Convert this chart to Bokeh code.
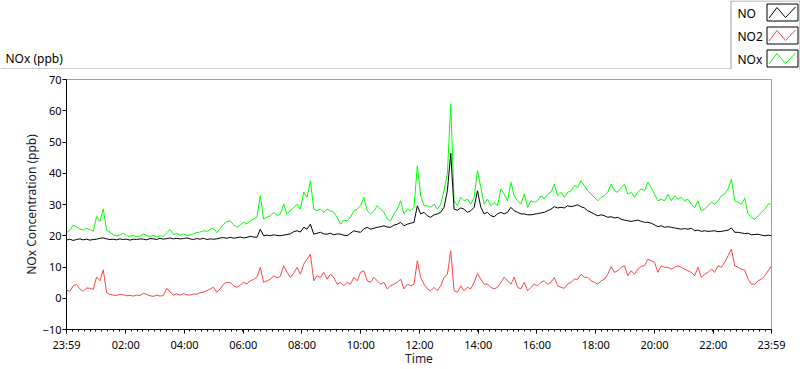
from bokeh.plotting import figure
from bokeh.models import Range1d, FixedTicker, ColumnDataSource
from bokeh.layouts import column
from bokeh.embed import file_html
from bokeh.resources import INLINE
from bokeh.core.properties import value
import numpy as np

FONT = "Noto Sans"

nox = [
    21.0, 21.8, 23.4, 22.8, 22.2, 21.9, 22.3, 22.0, 21.4, 26.2, 24.6, 28.6, 21.8, 21.2, 20.3, 20.0, 20.2, 20.9,
    20.0, 19.8, 20.1, 19.7, 19.9, 20.6, 20.0, 19.8, 20.1, 19.6, 20.0, 19.8, 21.0, 22.0, 20.4, 20.8, 20.2, 20.6,
    20.0, 20.3, 20.6, 21.0, 21.2, 21.6, 21.4, 22.1, 22.4, 21.0, 22.3, 23.7, 24.5, 24.8, 23.5, 22.7, 23.5, 24.3,
    23.8, 24.8, 25.3, 25.9, 32.8, 25.3, 25.9, 26.4, 27.5, 26.5, 26.9, 30.1, 26.9, 28.0, 29.0, 30.1, 28.5, 33.9,
    32.3, 37.6, 28.5, 28.0, 28.5, 27.5, 28.5, 28.0, 27.5, 25.9, 23.7, 25.0, 24.8, 25.9, 28.0, 28.5, 29.6, 32.3,
    28.0, 27.0, 28.0, 29.6, 28.5, 27.5, 25.3, 24.8, 27.0, 28.5, 31.2, 27.0, 28.5, 28.0, 29.1, 42.4, 33.0, 29.6,
    29.6, 29.1, 30.1, 28.5, 30.1, 34.4, 40.0, 62.1, 31.2, 29.6, 32.3, 31.2, 31.7, 30.1, 32.3, 40.8, 35.5, 30.1,
    31.7, 29.6, 30.7, 29.6, 35.0, 33.3, 31.2, 37.1, 32.8, 31.2, 30.1, 33.3, 29.1, 31.2, 30.7, 31.2, 32.8, 31.7,
    33.3, 33.9, 36.5, 32.8, 33.9, 32.3, 33.9, 34.4, 36.0, 35.5, 37.6, 36.0, 34.4, 33.3, 32.3, 31.2, 32.3, 32.8,
    33.9, 36.5, 34.4, 33.9, 35.5, 36.5, 33.3, 33.9, 32.3, 33.9, 35.0, 34.4, 37.1, 35.5, 33.3, 31.2, 31.7, 31.2,
    33.3, 31.2, 32.8, 31.7, 32.3, 31.2, 31.7, 30.1, 29.1, 31.2, 28.0, 28.5, 29.6, 30.7, 30.1, 31.2, 32.8, 33.3,
    35.0, 38.1, 31.2, 30.7, 30.1, 32.0, 26.9, 25.9, 25.3, 26.4, 27.5, 28.5, 30.1, 30.3,
]
no = [
    18.6, 18.9, 18.5, 18.8, 19.0, 18.7, 18.9, 18.6, 18.8, 18.9, 19.2, 19.3, 19.0, 18.8, 18.9, 18.7, 19.0, 18.8,
    18.9, 18.6, 18.9, 18.8, 19.0, 18.9, 18.7, 19.1, 19.0, 18.8, 19.2, 18.9, 19.1, 19.3, 19.0, 19.2, 19.0, 19.1,
    19.3, 19.0, 18.8, 19.1, 18.9, 19.2, 18.8, 19.0, 18.9, 19.0, 19.3, 19.4, 19.2, 19.5, 19.2, 19.4, 19.6, 19.3,
    19.5, 19.8, 19.6, 19.5, 22.1, 20.0, 20.2, 20.0, 20.3, 20.1, 20.0, 20.2, 20.4, 20.6, 21.3, 21.6, 21.2, 22.7,
    22.1, 23.7, 20.5, 20.8, 21.1, 20.6, 20.5, 20.8, 20.3, 20.6, 20.5, 20.2, 20.0, 20.8, 21.6, 21.3, 21.1, 22.2,
    22.7, 22.1, 22.4, 22.7, 22.9, 23.2, 22.8, 22.7, 23.4, 23.7, 24.3, 23.2, 23.7, 24.0, 24.3, 29.6, 27.0, 27.5,
    26.4, 25.9, 26.7, 27.0, 27.5, 29.1, 34.4, 46.4, 28.5, 28.2, 28.9, 28.5, 27.5, 28.0, 29.1, 34.4, 29.1, 27.0,
    27.5, 26.4, 26.1, 27.0, 27.5, 27.0, 27.5, 29.1, 28.0, 27.5, 27.0, 27.0, 26.7, 26.7, 26.9, 27.1, 27.3, 27.5,
    28.0, 28.5, 29.3, 28.9, 29.1, 28.9, 29.6, 29.3, 29.6, 29.9, 29.3, 28.9, 28.0, 27.5, 26.9, 26.4, 26.7, 26.4,
    25.9, 26.1, 25.7, 25.9, 25.3, 25.0, 24.8, 24.6, 24.8, 25.0, 24.6, 24.3, 24.3, 24.0, 23.5, 22.9, 23.2, 22.7,
    22.9, 22.7, 22.5, 22.3, 22.1, 22.3, 22.1, 22.4, 21.6, 21.8, 21.4, 21.6, 21.4, 21.5, 21.6, 21.3, 21.4, 21.6,
    21.8, 22.5, 21.1, 21.1, 20.9, 20.7, 20.8, 20.3, 20.4, 20.5, 20.2, 20.0, 20.2, 20.0,
]
no2 = [
    2.6, 2.2, 4.0, 4.4, 3.0, 2.2, 3.3, 3.2, 2.8, 6.8, 5.6, 9.1, 1.8, 1.2, 1.0, 0.9, 1.3, 1.1,
    0.8, 0.9, 0.7, 1.0, 0.9, 1.6, 1.2, 0.8, 0.6, 1.0, 0.7, 0.9, 3.2, 2.0, 1.0, 1.4, 1.0, 1.5,
    1.1, 1.0, 1.4, 1.3, 1.8, 2.0, 2.4, 3.0, 3.5, 1.9, 3.0, 4.5, 5.1, 5.0, 4.0, 3.5, 4.2, 5.1,
    4.6, 5.6, 6.0, 6.7, 9.9, 5.1, 5.6, 6.1, 7.2, 6.5, 7.0, 10.4, 8.3, 6.7, 8.0, 9.9, 7.7, 10.9,
    12.5, 14.1, 5.6, 7.2, 6.7, 8.3, 6.1, 7.7, 6.7, 4.5, 5.1, 4.0, 5.1, 4.5, 6.7, 5.6, 8.3, 8.8,
    5.6, 5.1, 6.7, 5.6, 4.5, 5.1, 3.0, 4.0, 4.5, 5.1, 6.1, 3.0, 4.5, 4.0, 4.5, 12.0, 6.7, 4.5,
    3.0, 2.4, 3.5, 2.4, 4.0, 6.7, 7.7, 15.2, 2.4, 1.9, 4.0, 2.4, 3.5, 3.0, 5.1, 7.9, 6.1, 4.5,
    4.5, 3.5, 3.0, 3.5, 5.1, 6.7, 5.6, 4.5, 6.7, 3.5, 3.0, 5.1, 2.4, 3.5, 4.5, 4.0, 5.1, 5.6,
    4.5, 5.1, 6.7, 4.0, 3.5, 3.2, 4.5, 5.1, 6.1, 6.1, 7.7, 6.7, 6.7, 5.6, 5.1, 4.5, 5.6, 6.1,
    7.7, 10.1, 8.3, 8.8, 9.9, 10.4, 7.2, 8.8, 7.7, 9.3, 10.2, 10.4, 12.5, 12.0, 11.5, 8.3, 10.4, 9.9,
    9.9, 9.3, 9.9, 10.4, 9.9, 9.3, 8.8, 8.3, 7.2, 9.9, 6.7, 7.7, 8.3, 9.3, 8.3, 10.4, 9.9, 11.5,
    13.6, 15.7, 10.4, 9.9, 9.3, 9.0, 6.1, 4.5, 4.5, 5.6, 6.1, 7.2, 8.8, 10.4,
]

series_names = ["NO", "NO2", "NOx"]
series_colors = ["#000000", "#ff4444", "#00ff00"]

# minutes after the 23:59 start; one sample every ~6.8 minutes
minutes = np.linspace(0, 1440, len(no))

tick_minutes = [0, 121, 241, 361, 481, 601, 721, 841, 961, 1081, 1201, 1321, 1440]
tick_labels = ["23:59", "02:00", "04:00", "06:00", "08:00", "10:00", "12:00",
               "14:00", "16:00", "18:00", "20:00", "22:00", "23:59"]
minor_minutes = list(range(0, 1441, 12))
y_ticks = [-10, 0, 10, 20, 30, 40, 50, 60, 70]

# ---- top strip: graph caption + legend (coordinates in page pixels) ----
top = figure(width=800, height=69, x_range=Range1d(0, 800), y_range=Range1d(69, 0),
             toolbar_location=None, output_backend="svg", min_border=0,
             x_axis_location=None, y_axis_location=None, outline_line_color=None)
top.frame_align = False
top.grid.visible = False
top.line([0, 730], [68.5, 68.5], line_color="#a0a0a0", line_width=1)
top.text(x=[5], y=[58], text=["NOx (ppb)"], text_font=value(FONT), text_font_size="12px",
         text_baseline="middle", text_align="left", text_color="#000000")
top.quad(left=[730.5], right=[799.5], top=[0.5], bottom=[75],
         fill_color="white", line_color="#a0a0a0", line_width=1)

row_y = [12.5, 35.5, 58.5]
top.text(x=[737] * 3, y=row_y, text=series_names, text_font=value(FONT), text_font_size="12px",
         text_baseline="middle", text_align="left", text_color="#000000")
top.quad(left=[766.5] * 3, right=[797.5] * 3, top=[y - 9 for y in row_y], bottom=[y + 8 for y in row_y],
         fill_color="white", line_color="#000000", line_width=1)
zx = [[768.5, 776.5, 785.0, 795.0] for _ in row_y]
zy = [[y + 5, y - 5.5, y + 4.5, y - 6] for y in row_y]
top.multi_line(xs=zx, ys=zy, line_color=series_colors, line_width=1)

# ---- main chart ----
p = figure(width=800, height=300, x_range=Range1d(0, 1440), y_range=Range1d(-10, 70),
           toolbar_location=None, output_backend="svg",
           min_border_left=66, min_border_right=29, min_border_top=10, min_border_bottom=40,
           outline_line_color="#a0a0a0", background_fill_color="white", border_fill_color="white")
p.frame_align = False
p.grid.visible = False

src = ColumnDataSource(dict(t=minutes, no=no, no2=no2, nox=nox))
p.line("t", "nox", source=src, line_color=series_colors[2], line_width=1)
p.line("t", "no2", source=src, line_color=series_colors[1], line_width=1)
p.line("t", "no", source=src, line_color=series_colors[0], line_width=1)

xa = p.xaxis[0]
xa.ticker = FixedTicker(ticks=tick_minutes, minor_ticks=minor_minutes)
xa.major_label_overrides = {m: lab for m, lab in zip(tick_minutes, tick_labels)}
xa.axis_label = "Time"
ya = p.yaxis[0]
ya.ticker = FixedTicker(ticks=y_ticks, minor_ticks=[])
ya.axis_label = "NOx Concentration (ppb)"

for ax in (xa, ya):
    ax.axis_line_color = "#000000"
    ax.major_tick_line_color = "#000000"
    ax.minor_tick_line_color = "#000000"
    ax.major_tick_in = 0
    ax.major_tick_out = 4
    ax.minor_tick_in = 0
    ax.minor_tick_out = 2
    ax.major_label_text_font = FONT
    ax.major_label_text_font_size = "11px"
    ax.major_label_text_color = "#000000"
    ax.axis_label_text_font = FONT
    ax.axis_label_text_font_size = "12px"
    ax.axis_label_text_font_style = "normal"
    ax.axis_label_text_color = "#1a1a33"
xa.major_label_standoff = 3
xa.axis_label_standoff = -5
ya.major_label_standoff = 1
ya.axis_label_standoff = 0
ya.minor_tick_out = 0

layout = column(top, p)
open("out.html", "w").write(file_html(layout, INLINE))
